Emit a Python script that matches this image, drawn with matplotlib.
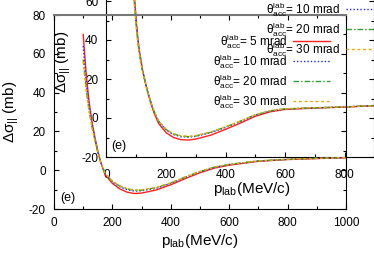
import matplotlib
matplotlib.use("Agg")
from matplotlib import pyplot as plt
from matplotlib.ticker import MultipleLocator

plt.rcParams['font.family'] = ['Liberation Sans', 'DejaVu Sans']
plt.rcParams['mathtext.fontset'] = 'custom'
plt.rcParams['mathtext.rm'] = 'Liberation Sans'
plt.rcParams['mathtext.it'] = 'Liberation Sans:italic'
plt.rcParams['axes.unicode_minus'] = False

# main panel: p_lab (MeV/c) vs delta sigma (mb)
p_main = [100, 110, 120, 130, 140, 150, 160, 175, 200, 225, 250, 275, 300,
          350, 400, 450, 500, 550, 600, 700, 800, 900, 1000]
main_5 = [70, 50, 35.5, 25, 17, 10, 4.2, -2.3, -6.8, -9.6, -11.3, -12.0, -11.8,
          -10.2, -7.5, -4.3, -1.3, 1.1, 2.6, 4.6, 5.5, 6.0, 6.4]
main_10 = [64, 46, 33, 23.5, 16, 9.5, 4, -2, -6, -8.5, -10, -10.8, -10.6,
           -9.3, -6.8, -3.7, -0.8, 1.5, 2.9, 4.7, 5.6, 6.1, 6.5]
main_20 = [57, 42, 31, 22.5, 15.5, 9.3, 4, -1.8, -5.7, -8.2, -9.6, -10.4, -10.3,
           -9.0, -6.6, -3.5, -0.7, 1.6, 3.0, 4.8, 5.6, 6.1, 6.5]
main_30 = [56, 41.5, 30.5, 22.2, 15.3, 9.2, 4, -1.7, -5.6, -8.0, -9.4, -10.2, -10.1,
           -8.9, -6.5, -3.4, -0.6, 1.7, 3.0, 4.8, 5.6, 6.1, 6.5]

# inset panel
p_ins = [90, 95, 100, 105, 110, 120, 130, 140, 150, 160, 175, 200, 225, 250,
         275, 300, 350, 400, 450, 500, 550, 600, 700, 800, 900]
ins_5 = [70, 60, 50, 41.5, 35, 25.5, 18.5, 12.2, 7, 2.5, -2.8, -7.5, -10, -11.1,
         -11.3, -10.8, -8.8, -5.8, -2.6, 0.9, 3.2, 4.4, 5.1, 5.6, 6.3]
ins_10 = [68, 58, 48, 40, 34, 25, 18.5, 12.5, 7.5, 3.2, -1.8, -6.2, -8.5, -9.6,
          -9.8, -9.4, -7.5, -4.8, -1.8, 1.5, 3.6, 4.6, 5.2, 5.7, 6.4]
ins_20 = [66, 56.5, 47, 39.5, 33.5, 24.8, 18.4, 12.6, 7.7, 3.4, -1.6, -5.9, -8.2, -9.3,
          -9.6, -9.2, -7.3, -4.6, -1.6, 1.6, 3.7, 4.7, 5.2, 5.7, 6.4]
ins_30 = [65, 56, 46.5, 39, 33.2, 24.6, 18.3, 12.6, 7.8, 3.5, -1.5, -5.7, -8.0, -9.1,
          -9.4, -9.0, -7.2, -4.5, -1.5, 1.7, 3.8, 4.7, 5.3, 5.7, 6.4]

labels = [r'$\mathregular{\theta^{lab}_{acc}}$= 5 mrad',
          r'$\mathregular{\theta^{lab}_{acc}}$= 10 mrad',
          r'$\mathregular{\theta^{lab}_{acc}}$= 20 mrad',
          r'$\mathregular{\theta^{lab}_{acc}}$= 30 mrad']
colors = ['#ff2020', '#2020ff', '#30a030', '#f0a800']
styles = ['-', (0, (1, 1.5)), (0, (4, 1.5, 1, 1.5)), (0, (2, 2))]
ylab = r'$\mathregular{\Delta\sigma_{||}}$ (mb)'
xlab = r'$\mathregular{p_{lab}}$(MeV/c)'

W, H = 374, 262
fig = plt.figure(figsize=(3.74, 2.62), dpi=100)
ax = fig.add_axes([54 / W, 1 - 209 / H, 292 / W, 194 / H])
axi = fig.add_axes([106.5 / W, 1 - 157 / H, 268 / W, 195 / H])
axi.set_zorder(1)
ax.set_zorder(2)
ax.patch.set_alpha(0)
axi.patch.set_alpha(0)


def draw_panel(a, x, series):
    for ys, c, ls, lab in zip(series, colors, styles, labels):
        a.plot(x, ys, color=c, ls=ls, lw=1, label=lab)


draw_panel(ax, p_main, [main_5, main_10, main_20, main_30])
draw_panel(axi, p_ins, [ins_5, ins_10, ins_20, ins_30])

ax.set_xlim(0, 1000)
ax.set_ylim(-20, 80)
ax.xaxis.set_major_locator(MultipleLocator(200))
ax.xaxis.set_minor_locator(MultipleLocator(100))
ax.yaxis.set_major_locator(MultipleLocator(20))
ax.yaxis.set_minor_locator(MultipleLocator(10))

axi.set_xlim(0, 900)
axi.set_ylim(-20, 80)
axi.set_xticks([0, 200, 400, 600, 800])
axi.xaxis.set_minor_locator(MultipleLocator(100))
axi.set_yticks([-20, 0, 20, 40, 60])
axi.yaxis.set_minor_locator(MultipleLocator(10))

for a in (ax, axi):
    a.tick_params(which='both', direction='in', top=True, right=True, labelsize=8.5)
    a.tick_params(which='major', length=3.5, width=0.8)
    a.tick_params(which='minor', length=2, width=0.8)
    for s in a.spines.values():
        s.set_linewidth(0.8)
ax.tick_params(axis='both', pad=6)
axi.tick_params(axis='y', pad=6)
axi.tick_params(axis='x', pad=8.5)
ax.spines['top'].set_color('#777777')
ax.spines['top'].set_linewidth(1.5)

ax.set_xlabel(xlab, fontsize=11)
ax.set_ylabel(ylab, fontsize=11)
ax.xaxis.set_label_coords(0.5, -0.119)
ax.yaxis.set_label_coords(-0.112, 0.5)
axi.set_xlabel(xlab, fontsize=11)
axi.set_ylabel(ylab, fontsize=11)
axi.xaxis.set_label_coords(0.543, -0.118)
axi.yaxis.set_label_coords(-0.125, 0.49)

ax.text(0.02, 0.057, '(e)', transform=ax.transAxes, fontsize=9, va='center')
axi.text(0.017, 0.056, '(e)', transform=axi.transAxes, fontsize=9, va='center')

leg_opts = dict(loc='center right', frameon=False, markerfirst=False,
                fontsize=8.5, handlelength=3.1, handletextpad=0.5,
                borderpad=0, borderaxespad=0, labelspacing=0.11,
                bbox_transform=fig.transFigure)
axi.legend(bbox_to_anchor=(330 / W, 1 - 71.5 / H), **leg_opts)
ax.legend(bbox_to_anchor=(383 / W, 1 - 19.5 / H), **leg_opts)

fig.savefig('out.png', dpi=100)
